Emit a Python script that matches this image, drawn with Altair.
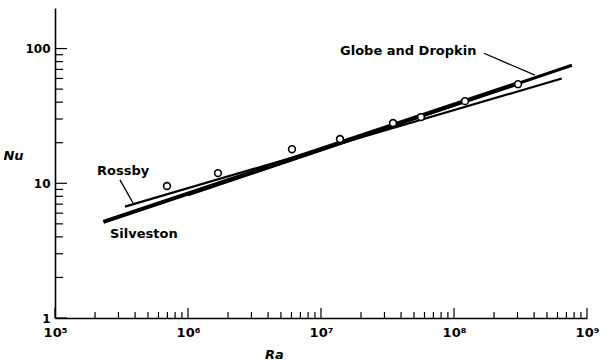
import altair as alt
import pandas as pd

# Measured Nusselt numbers (open circles)
ra_points = [6.95e5, 1.68e6, 6.05e6, 1.39e7, 3.48e7, 5.65e7, 1.21e8, 3.03e8]
nu_points = [9.55, 11.9, 17.9, 21.3, 28.0, 31.0, 40.7, 54.4]

# Correlation lines (end points on log-log axes) and their drawn weights
line_names = ["Silveston", "Silveston", "Globe and Dropkin", "Globe and Dropkin", "Rossby", "Rossby"]
line_ra = [2.31e5, 3.1e8, 1.0e6, 7.7e8, 3.36e5, 6.46e8]
line_nu = [5.17, 55.6, 8.2, 75.2, 6.71, 59.9]
line_width = [4.2, 4.2, 3.0, 3.0, 2.2, 2.2]

# Labels and their leader lines
label_text = ["Globe and Dropkin", "Rossby", "Silveston"]
label_ra = [1.39e7, 2.07e5, 2.59e5]
label_nu = [95.5, 12.3, 4.21]
leader_id = ["g", "g", "r", "r"]
leader_ra = [1.68e8, 4.06e8, 3.08e5, 3.86e5]
leader_nu = [92.3, 63.4, 10.6, 7.14]

# Axis ticks
x_major = [1e5, 1e6, 1e7, 1e8, 1e9]
y_major = [1, 10, 100]
x_minor = [k * 10 ** n for n in range(5, 9) for k in range(2, 10)]
y_minor = [k * 10 ** n for n in range(0, 2) for k in range(2, 10)]

W, H = 532, 310
FONT = "DejaVu Sans"

xs = alt.Scale(type="log", domain=[1e5, 1e9], nice=False)
ys = alt.Scale(type="log", domain=[1, 200], nice=False)

sup = {5: "⁵", 6: "⁶", 7: "⁷", 8: "⁸", 9: "⁹"}
x_label_expr = " : ".join(
    f"datum.value == 1e{n} ? '10{s}'" for n, s in sup.items()
) + " : ''"

lines_df = pd.DataFrame({"series": line_names, "Ra": line_ra, "Nu": line_nu, "w": line_width})
points_df = pd.DataFrame({"Ra": ra_points, "Nu": nu_points})
labels_df = pd.DataFrame({"text": label_text, "Ra": label_ra, "Nu": label_nu})
leaders_df = pd.DataFrame({"id": leader_id, "Ra": leader_ra, "Nu": leader_nu})

lines = alt.Chart(lines_df).mark_line(color="black", strokeCap="butt").encode(
    x=alt.X(
        "Ra:Q", scale=xs,
        axis=alt.Axis(
            values=x_major, labelExpr=x_label_expr, ticks=False,
            domainColor="black", domainWidth=1.6, grid=False,
            labelFont=FONT, labelFontWeight="bold", labelFontSize=13,
            labelColor="black", labelPadding=8, labelFlush=False,
            title="Ra", titleFont=FONT, titleFontStyle="italic",
            titleFontWeight="bold", titleFontSize=13, titleColor="black",
            titleX=219, titleY=36, titleAlign="center", titleBaseline="middle",
        ),
    ),
    y=alt.Y(
        "Nu:Q", scale=ys,
        axis=alt.Axis(
            values=y_major, format="d", ticks=False,
            domainColor="black", domainWidth=1.6, grid=False,
            labelFont=FONT, labelFontWeight="bold", labelFontSize=12,
            labelColor="black", labelPadding=5, labelFlush=False,
            title="Nu", titleFont=FONT, titleFontStyle="italic",
            titleFontWeight="bold", titleFontSize=13, titleColor="black",
            titleAngle=0, titleX=-42, titleY=147,
            titleAlign="center", titleBaseline="middle",
        ),
    ),
    detail="series:N",
    strokeWidth=alt.StrokeWidth("w:Q", scale=None),
)

points = alt.Chart(points_df).mark_point(
    shape="circle", filled=True, fill="white", stroke="black",
    strokeWidth=1.6, size=46, opacity=1,
).encode(x=alt.X("Ra:Q", scale=xs), y=alt.Y("Nu:Q", scale=ys))

leaders = alt.Chart(leaders_df).mark_line(color="black", strokeWidth=1.3).encode(
    x=alt.X("Ra:Q", scale=xs), y=alt.Y("Nu:Q", scale=ys), detail="id:N"
)

labels = alt.Chart(labels_df).mark_text(
    align="left", baseline="middle", font=FONT, fontWeight="bold",
    fontSize=13, color="black",
).encode(x=alt.X("Ra:Q", scale=xs), y=alt.Y("Nu:Q", scale=ys), text="text:N")

# Inward-pointing tick marks along both axes
def x_ticks(vals, length):
    return alt.Chart(pd.DataFrame({"Ra": vals})).mark_rule(color="black", strokeWidth=1.2).encode(
        x=alt.X("Ra:Q", scale=xs), y=alt.value(H), y2=alt.value(H - length)
    )

def y_ticks(vals, length):
    return alt.Chart(pd.DataFrame({"Nu": vals})).mark_rule(color="black", strokeWidth=1.2).encode(
        y=alt.Y("Nu:Q", scale=ys), x=alt.value(0), x2=alt.value(length)
    )

chart = alt.layer(
    lines, leaders, points, labels,
    x_ticks(x_major, 10), x_ticks(x_minor, 6),
    y_ticks(y_major, 12), y_ticks(y_minor, 8),
).properties(
    width=W, height=H, autosize="none",
    padding={"left": 55, "top": 8, "right": 14, "bottom": 42},
    background="white",
).configure_view(stroke=None)

chart.save("out.html", embed_options={"renderer": "svg", "actions": False})
